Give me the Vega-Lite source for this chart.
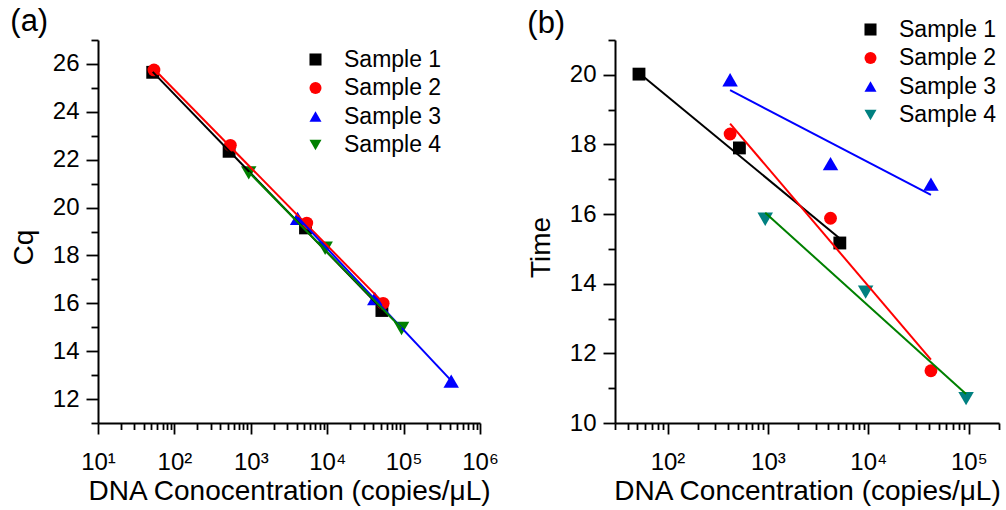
{
  "$schema": "https://vega.github.io/schema/vega-lite/v6.json",
  "background": "white",
  "padding": {"left": 10, "top": 6, "right": 2, "bottom": 2},
  "config": {
    "font": "Liberation Sans",
    "view": {"stroke": null},
    "axis": {
      "grid": false,
      "domainColor": "black",
      "domainWidth": 2,
      "tickColor": "black",
      "tickWidth": 1.8,
      "tickCount": 100,
      "labelColor": "black",
      "labelFont": "Liberation Sans",
      "labelFontSize": 24,
      "labelOverlap": false,
      "labelFlush": false,
      "titleColor": "black",
      "titleFont": "Liberation Sans",
      "titleFontSize": 28,
      "titleFontWeight": "normal"
    },
    "legend": {
      "labelFont": "Liberation Sans",
      "labelFontSize": 23,
      "labelColor": "black",
      "symbolStrokeWidth": 0,
      "symbolSize": 145,
      "labelOffset": 17,
      "rowPadding": 4.5,
      "padding": 0
    },
    "title": {
      "font": "Liberation Sans",
      "fontSize": 31,
      "fontWeight": "normal",
      "color": "black",
      "anchor": "start",
      "frame": "bounds"
    }
  },
  "datasets": {
    "aPoints": [
      {"series": "Sample 1", "conc": 52, "value": 25.65},
      {"series": "Sample 1", "conc": 520, "value": 22.35},
      {"series": "Sample 1", "conc": 5200, "value": 19.15},
      {"series": "Sample 1", "conc": 52000, "value": 15.7},
      {"series": "Sample 2", "conc": 54, "value": 25.75},
      {"series": "Sample 2", "conc": 540, "value": 22.6},
      {"series": "Sample 2", "conc": 5400, "value": 19.35},
      {"series": "Sample 2", "conc": 54000, "value": 16.0},
      {"series": "Sample 3", "conc": 4100, "value": 19.55},
      {"series": "Sample 3", "conc": 42000, "value": 16.2},
      {"series": "Sample 3", "conc": 420000, "value": 12.75},
      {"series": "Sample 4", "conc": 940, "value": 21.45},
      {"series": "Sample 4", "conc": 9400, "value": 18.3},
      {"series": "Sample 4", "conc": 94000, "value": 14.95}
    ],
    "aFits": [
      {"series": "Sample 1", "conc": 52, "value": 25.67},
      {"series": "Sample 1", "conc": 52000, "value": 15.76},
      {"series": "Sample 2", "conc": 54, "value": 25.79},
      {"series": "Sample 2", "conc": 54000, "value": 16.03},
      {"series": "Sample 3", "conc": 4100, "value": 19.6},
      {"series": "Sample 3", "conc": 420000, "value": 12.77},
      {"series": "Sample 4", "conc": 940, "value": 21.48},
      {"series": "Sample 4", "conc": 94000, "value": 14.96}
    ],
    "bPoints": [
      {"series": "Sample 1", "conc": 52, "value": 20.02},
      {"series": "Sample 1", "conc": 520, "value": 17.9},
      {"series": "Sample 1", "conc": 5200, "value": 15.17},
      {"series": "Sample 2", "conc": 420, "value": 18.3},
      {"series": "Sample 2", "conc": 4200, "value": 15.88},
      {"series": "Sample 2", "conc": 42000, "value": 11.5},
      {"series": "Sample 3", "conc": 420, "value": 19.86},
      {"series": "Sample 3", "conc": 4200, "value": 17.45},
      {"series": "Sample 3", "conc": 42000, "value": 16.86},
      {"series": "Sample 4", "conc": 940, "value": 15.85},
      {"series": "Sample 4", "conc": 9400, "value": 13.76},
      {"series": "Sample 4", "conc": 94000, "value": 10.7}
    ],
    "bFits": [
      {"series": "Sample 1", "conc": 52, "value": 20.05},
      {"series": "Sample 1", "conc": 5200, "value": 15.3},
      {"series": "Sample 2", "conc": 420, "value": 18.6},
      {"series": "Sample 2", "conc": 42000, "value": 11.82},
      {"series": "Sample 3", "conc": 420, "value": 19.56},
      {"series": "Sample 3", "conc": 42000, "value": 16.55},
      {"series": "Sample 4", "conc": 940, "value": 16.04},
      {"series": "Sample 4", "conc": 94000, "value": 10.83}
    ]
  },
  "spacing": 135,
  "bounds": "flush",
  "resolve": {
    "scale": {"fill": "independent", "stroke": "independent", "shape": "independent", "x": "independent", "y": "independent"},
    "legend": {"fill": "independent", "shape": "independent"}
  },
  "hconcat": [
    {
      "width": 382,
      "height": 383,
      "title": {"text": "(a)", "offset": -10},
      "encoding": {
        "x": {
          "field": "conc", "type": "quantitative",
          "scale": {"type": "log", "domain": [10, 1000000], "nice": false},
          "axis": {
            "title": "DNA Conocentration (copies/μL)",
            "values": [10,20,30,40,50,60,70,80,90,100,200,300,400,500,600,700,800,900,1000,2000,3000,4000,5000,6000,7000,8000,9000,10000,20000,30000,40000,50000,60000,70000,80000,90000,100000,200000,300000,400000,500000,600000,700000,800000,900000,1000000],
            "labelExpr": "abs(log(datum.value)/LN10 - round(log(datum.value)/LN10)) < 0.001 ? '10' + ['⁰','¹','²','³','⁴','⁵','⁶'][round(log(datum.value)/LN10)] : ''",
            "tickSize": {"condition": {"test": "abs(log(datum.value)/LN10 - round(log(datum.value)/LN10)) < 0.001", "value": 11}, "value": 6.5},
            "labelPadding": 16,
            "titlePadding": 3
          }
        },
        "y": {
          "field": "value", "type": "quantitative",
          "scale": {"domain": [11, 27], "zero": false, "nice": false},
          "axis": {
            "title": "Cq",
            "values": [11,12,13,14,15,16,17,18,19,20,21,22,23,24,25,26,27],
            "labelExpr": "datum.value % 2 == 0 ? format(datum.value, 'd') : ''",
            "tickSize": {"condition": {"test": "datum.value % 2 == 0", "value": 12}, "value": 7},
            "labelPadding": 7,
            "titlePadding": 14,
            "titleY": 207
          }
        }
      },
      "layer": [
        {
          "data": {"name": "aPoints"},
          "transform": [{"filter": "datum.series == 'Sample 1' || datum.series == 'Sample 2'"}],
          "mark": {"type": "point", "filled": true, "opacity": 1, "strokeWidth": 0, "size": 165},
          "encoding": {
            "fill": {
              "field": "series", "type": "nominal",
              "scale": {"domain": ["Sample 1", "Sample 2", "Sample 3", "Sample 4"], "range": ["#000000", "#ff0000", "#0000ff", "#008000"]},
              "legend": {"title": null, "orient": "none", "legendX": 206, "legendY": 8}
            },
            "shape": {
              "field": "series", "type": "nominal",
              "scale": {"domain": ["Sample 1", "Sample 2", "Sample 3", "Sample 4"], "range": ["square", "circle", "triangle-up", "triangle-down"]},
              "legend": {"title": null, "orient": "none", "legendX": 206, "legendY": 8}
            }
          }
        },
        {
          "data": {"name": "aPoints"},
          "transform": [{"filter": "datum.series == 'Sample 3' || datum.series == 'Sample 4'"}],
          "mark": {"type": "point", "filled": true, "opacity": 1, "strokeWidth": 0, "size": 240},
          "encoding": {
            "fill": {"field": "series", "type": "nominal"},
            "shape": {"field": "series", "type": "nominal"}
          }
        },
        {
          "data": {"name": "aFits"},
          "mark": {"type": "line", "strokeWidth": 2},
          "encoding": {
            "stroke": {
              "field": "series", "type": "nominal",
              "scale": {"domain": ["Sample 1", "Sample 2", "Sample 3", "Sample 4"], "range": ["#000000", "#ff0000", "#0000ff", "#008000"]},
              "legend": null
            }
          }
        }
      ]
    },
    {
      "width": 384,
      "height": 383,
      "title": {"text": "(b)", "offset": -22},
      "encoding": {
        "x": {
          "field": "conc", "type": "quantitative",
          "scale": {"type": "log", "domain": [30, 200000], "nice": false},
          "axis": {
            "title": "DNA Concentration (copies/μL)",
            "values": [30,40,50,60,70,80,90,100,200,300,400,500,600,700,800,900,1000,2000,3000,4000,5000,6000,7000,8000,9000,10000,20000,30000,40000,50000,60000,70000,80000,90000,100000,200000],
            "labelExpr": "abs(log(datum.value)/LN10 - round(log(datum.value)/LN10)) < 0.001 ? '10' + ['⁰','¹','²','³','⁴','⁵','⁶'][round(log(datum.value)/LN10)] : ''",
            "tickSize": {"condition": {"test": "abs(log(datum.value)/LN10 - round(log(datum.value)/LN10)) < 0.001", "value": 11}, "value": 6.5},
            "labelPadding": 16,
            "titlePadding": 3
          }
        },
        "y": {
          "field": "value", "type": "quantitative",
          "scale": {"domain": [10, 21], "zero": false, "nice": false},
          "axis": {
            "title": "Time",
            "values": [10,11,12,13,14,15,16,17,18,19,20,21],
            "labelExpr": "datum.value % 2 == 0 ? format(datum.value, 'd') : ''",
            "tickSize": {"condition": {"test": "datum.value % 2 == 0", "value": 12}, "value": 7},
            "labelPadding": 7,
            "titlePadding": 14,
            "titleY": 207
          }
        }
      },
      "layer": [
        {
          "data": {"name": "bPoints"},
          "transform": [{"filter": "datum.series == 'Sample 1' || datum.series == 'Sample 2'"}],
          "mark": {"type": "point", "filled": true, "opacity": 1, "strokeWidth": 0, "size": 165},
          "encoding": {
            "fill": {
              "field": "series", "type": "nominal",
              "scale": {"domain": ["Sample 1", "Sample 2", "Sample 3", "Sample 4"], "range": ["#000000", "#ff0000", "#0000ff", "#008080"]},
              "legend": {"title": null, "orient": "none", "legendX": 244, "legendY": -22}
            },
            "shape": {
              "field": "series", "type": "nominal",
              "scale": {"domain": ["Sample 1", "Sample 2", "Sample 3", "Sample 4"], "range": ["square", "circle", "triangle-up", "triangle-down"]},
              "legend": {"title": null, "orient": "none", "legendX": 244, "legendY": -22}
            }
          }
        },
        {
          "data": {"name": "bPoints"},
          "transform": [{"filter": "datum.series == 'Sample 3' || datum.series == 'Sample 4'"}],
          "mark": {"type": "point", "filled": true, "opacity": 1, "strokeWidth": 0, "size": 240},
          "encoding": {
            "fill": {"field": "series", "type": "nominal"},
            "shape": {"field": "series", "type": "nominal"}
          }
        },
        {
          "data": {"name": "bFits"},
          "mark": {"type": "line", "strokeWidth": 2},
          "encoding": {
            "stroke": {
              "field": "series", "type": "nominal",
              "scale": {"domain": ["Sample 1", "Sample 2", "Sample 3", "Sample 4"], "range": ["#000000", "#ff0000", "#0000ff", "#008000"]},
              "legend": null
            }
          }
        }
      ]
    }
  ]
}
